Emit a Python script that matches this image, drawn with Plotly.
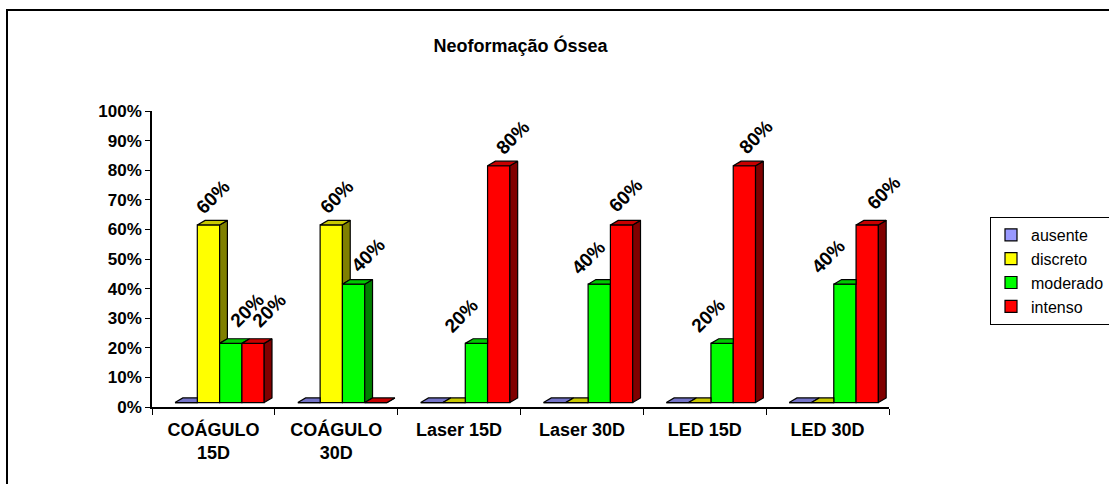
import plotly.graph_objects as go

# ---- data -------------------------------------------------------------
categories = ["COÁGULO<br>15D", "COÁGULO<br>30D", "Laser 15D", "Laser 30D", "LED 15D", "LED 30D"]
series_names = ["ausente", "discreto", "moderado", "intenso"]
ausente = [0.0, 0.0, 0.0, 0.0, 0.0, 0.0]
discreto = [0.6, 0.6, 0.0, 0.0, 0.0, 0.0]
moderado = [0.2, 0.4, 0.2, 0.4, 0.2, 0.4]
intenso = [0.2, 0.0, 0.8, 0.6, 0.8, 0.6]
y_tick_values = [0.0, 0.1, 0.2, 0.3, 0.4, 0.5, 0.6, 0.7, 0.8, 0.9, 1.0]

series_values = [ausente, discreto, moderado, intenso]

# ---- style ------------------------------------------------------------
FONT = "Liberation Sans"
front_colors = ["#9999FF", "#FFFF00", "#00FF00", "#FF0000"]
top_colors = ["#7373C8", "#C8C800", "#00C800", "#C80000"]
side_colors = ["#4C4C80", "#808000", "#008000", "#800000"]

# plot area in pixels
L, R, T, B = 152, 889, 111, 407
W_PX, H_PX = 1109, 484
PX_PER_X = (R - L) / 6.0
PX_PER_Y = (B - T) / 1.0

# bar geometry in axis units (3-D look: front, top and right side faces)
BAR_W = 22.3 / PX_PER_X
START = -0.5 + 23.0 / PX_PER_X
DX = 7.8 / PX_PER_X
DY = 4.6 / PX_PER_Y
BASE = 0.015

# label nudges in pixels (dx, dy above the front top) per (category, series)
label_nudge = {
    (0, 1): (5, 28), (0, 2): (16, 33), (0, 3): (16, 33),
    (1, 1): (6, 28), (1, 2): (14, 29),
    (2, 2): (-15, 28), (2, 3): (14, 28),
    (3, 2): (-11, 27), (3, 3): (4, 29),
    (4, 2): (-14, 28), (4, 3): (12, 29),
    (5, 2): (-17, 28), (5, 3): (17, 32),
}


def px_x(p):
    return (p - L) / (R - L)


def px_y(p):
    return (B - p) / (B - T)


fig = go.Figure()

# front faces as bars
for s, (name, vals) in enumerate(zip(series_names, series_values)):
    xs = [g + START + s * BAR_W + BAR_W / 2 for g in range(len(categories))]
    fig.add_trace(go.Bar(
        x=xs, y=vals, base=BASE, width=BAR_W, name=name,
        marker=dict(color=front_colors[s], line=dict(color="black", width=1.2)),
        legendgroup=name,
        hovertext=[c.replace("<br>", " ") for c in categories],
        hovertemplate="%{hovertext}<br>" + name + ": %{y:.0%}<extra></extra>",
    ))

# side and top faces, clipped where the next bar of the group hides them
for s in range(len(series_names)):
    side_x, side_y, top_x, top_y = [], [], [], []
    for g in range(len(categories)):
        v = series_values[s][g]
        xl = g + START + s * BAR_W
        xr = xl + BAR_W
        t = BASE + v
        nxt = series_values[s + 1][g] if s + 1 < len(series_names) else None

        # right side face
        if nxt is None or nxt < v:
            lo = BASE + (nxt if nxt is not None else 0.0)
            side_x += [xr, xr + DX, xr + DX, xr, xr, None]
            side_y += [lo, lo + DY, t + DY, t, lo, None]

        # top face
        if nxt is not None and nxt > v:
            top_x += [xl, xr, xr, xl + DX, xl, None]
            top_y += [t, t, t + DY, t + DY, t, None]
        else:
            top_x += [xl, xr, xr + DX, xl + DX, xl, None]
            top_y += [t, t, t + DY, t + DY, t, None]

    if side_x:
        fig.add_trace(go.Scatter(
            x=side_x, y=side_y, mode="lines", fill="toself",
            fillcolor=side_colors[s], line=dict(color="black", width=1.2),
            showlegend=False, hoverinfo="skip",
        ))
    fig.add_trace(go.Scatter(
        x=top_x, y=top_y, mode="lines", fill="toself",
        fillcolor=top_colors[s], line=dict(color="black", width=1.2),
        showlegend=False, hoverinfo="skip",
    ))

# invisible trace that carries the category label axis
fig.add_trace(go.Scatter(
    x=list(range(len(categories))), y=[None] * len(categories),
    xaxis="x2", yaxis="y", mode="markers", showlegend=False, hoverinfo="skip",
))

# value labels
for s in range(len(series_names)):
    for g in range(len(categories)):
        v = series_values[s][g]
        if v <= 0:
            continue
        dx, dy = label_nudge.get((g, s), (0, 28))
        fig.add_annotation(
            x=g + START + s * BAR_W + BAR_W / 2, y=BASE + v,
            xref="x", yref="y", text=f"{round(v * 100)}%",
            showarrow=False, textangle=-45,
            xanchor="center", yanchor="middle", xshift=dx, yshift=dy,
            font=dict(family=FONT, size=19, color="black", weight="bold"),
        )

# chart area border
fig.add_shape(
    type="rect", xref="paper", yref="paper",
    x0=px_x(7), x1=px_x(1130), y0=px_y(500), y1=px_y(10),
    line=dict(color="black", width=2), fillcolor="rgba(0,0,0,0)", layer="below",
)

boundaries = [i - 0.5 for i in range(len(categories) + 1)]

fig.update_layout(
    width=W_PX, height=H_PX,
    margin=dict(l=L, r=W_PX - R, t=T, b=H_PX - B, pad=0, autoexpand=False),
    paper_bgcolor="white", plot_bgcolor="white",
    barmode="overlay",
    title=dict(
        text="Neoformação Óssea", x=0.5, xref="paper", xanchor="center",
        y=1 - 46 / H_PX, yref="container", yanchor="middle",
        font=dict(family=FONT, size=18, color="black", weight="bold"),
    ),
    xaxis=dict(
        range=[-0.5, 5.5], tickmode="array", tickvals=boundaries,
        ticktext=[""] * len(boundaries), ticks="outside", ticklen=6,
        tickcolor="black", tickwidth=1.3, showline=True, linecolor="black",
        linewidth=1.5, showgrid=False, zeroline=False, fixedrange=True,
    ),
    xaxis2=dict(
        range=[-0.5, 5.5], overlaying="x", anchor="y", side="bottom",
        tickmode="array", tickvals=list(range(len(categories))), ticktext=categories,
        ticks="", showline=False, showgrid=False, zeroline=False,
        ticklabelstandoff=10,
        tickfont=dict(family=FONT, size=18, color="black", weight="bold"),
    ),
    yaxis=dict(
        range=[0, 1], tickmode="array", tickvals=y_tick_values, tickformat=".0%",
        ticks="outside", ticklen=5, tickcolor="black", tickwidth=1.3,
        showline=True, linecolor="black", linewidth=1.5,
        showgrid=False, zeroline=False,
        tickfont=dict(family=FONT, size=17, color="black", weight="bold"),
    ),
    legend=dict(
        x=px_x(990), xanchor="left", y=px_y(217), yanchor="top",
        bordercolor="black", borderwidth=1, bgcolor="white",
        font=dict(family=FONT, size=16, color="black"),
        tracegroupgap=5, traceorder="normal",
        entrywidth=100, entrywidthmode="pixels",
    ),
    showlegend=True,
)

fig.write_html("out.html")
